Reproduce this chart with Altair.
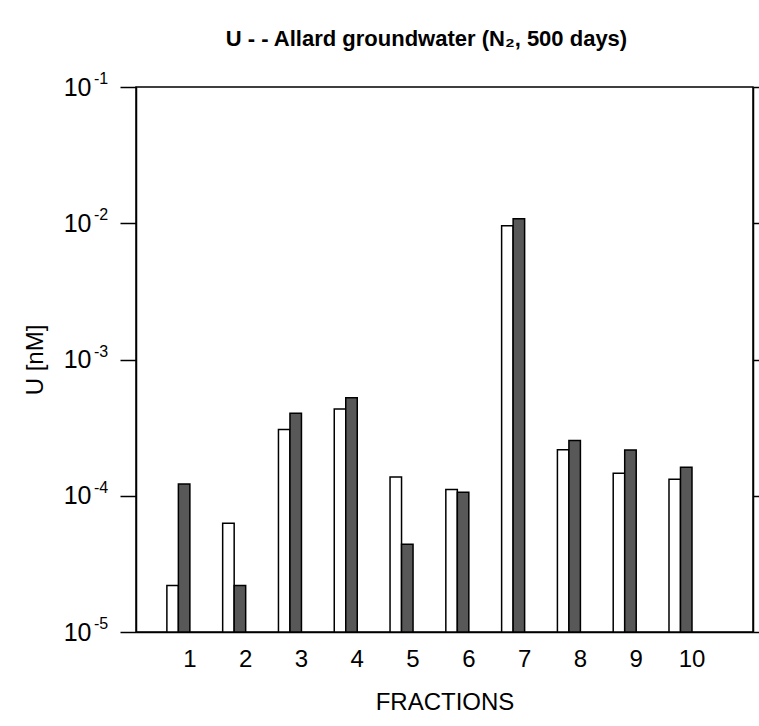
import altair as alt
import pandas as pd

fractions = [1, 2, 3, 4, 5, 6, 7, 8, 9, 10]
open_vals = [2.19e-5, 6.27e-5, 3.07e-4, 4.34e-4, 1.37e-4, 1.11e-4, 9.6e-3, 2.18e-4, 1.46e-4, 1.32e-4]
hatched_vals = [1.22e-4, 2.19e-5, 4.03e-4, 5.25e-4, 4.4e-5, 1.06e-4, 1.08e-2, 2.54e-4, 2.17e-4, 1.62e-4]
y_ticks = [1e-5, 1e-4, 1e-3, 1e-2, 1e-1]
y_tick_base = "10"
y_tick_exponents = ["-5", "-4", "-3", "-2", "-1"]
title_text = "U - - Allard groundwater (N₂, 500 days)"

W, H = 617, 545
FONT = "Liberation Sans, Arial, sans-serif"

df_open = pd.DataFrame({"fraction": fractions, "U": open_vals})
df_hat = pd.DataFrame({"fraction": fractions, "U": hatched_vals})
df_ticks = pd.DataFrame({"v": y_ticks, "exp": y_tick_exponents})

x_scale = alt.Scale(domain=[0.33, 11.21], nice=False, zero=False)
y_scale = alt.Scale(type="log", domain=[1e-5, 1e-1], nice=False)

x_axis = alt.Axis(
    values=fractions, format="d", ticks=False, labelOffset=11, labelFontSize=24,
    labelFont=FONT, labelColor="black", labelPadding=15, domainColor="black",
    domainWidth=1.5, title="FRACTIONS", titleFont=FONT, titleFontSize=24,
    titleFontWeight="normal", titleColor="black", titlePadding=19, grid=False,
    labelAngle=0,
)
y_axis_left = alt.Axis(
    orient="left", values=y_ticks, labelExpr=f"'{y_tick_base}'", tickSize=16,
    tickWidth=1.5, tickColor="black", domainColor="black", domainWidth=1.5,
    labelFontSize=25, labelFont=FONT, labelColor="black", labelPadding=29,
    title="U [nM]", titleFont=FONT, titleFontSize=24, titleFontWeight="normal",
    titleColor="black", titlePadding=16, grid=False,
)
y_axis_right = alt.Axis(
    orient="right", values=y_ticks, labels=False, tickSize=6, tickWidth=1.5,
    tickColor="black", domainColor="black", domainWidth=1.5, title=None, grid=False,
)

open_bars = alt.Chart(df_open).mark_bar(
    fill="white", stroke="black", strokeWidth=1.5, size=11.5, xOffset=-5.75
).encode(
    x=alt.X("fraction:Q", scale=x_scale, axis=x_axis),
    y=alt.Y("U:Q", scale=y_scale, axis=y_axis_left),
    y2=alt.datum(1e-5),
)
hat_bars = alt.Chart(df_hat).mark_bar(
    fill="#585858", stroke="black", strokeWidth=1.5, size=11.5, xOffset=5.75
).encode(
    x=alt.X("fraction:Q", scale=x_scale),
    y=alt.Y("U:Q", scale=y_scale, axis=None),
    y2=alt.datum(1e-5),
)
right_axis = alt.Chart(df_ticks).mark_point(opacity=0).encode(
    x=alt.value(0),
    y=alt.Y("v:Q", scale=y_scale, axis=y_axis_right),
)
exponents = alt.Chart(df_ticks).mark_text(
    align="left", baseline="middle", fontSize=16, font=FONT, color="black", dy=-8,
).encode(
    x=alt.value(-42),
    y=alt.Y("v:Q", scale=y_scale, axis=None),
    text="exp:N",
)

chart = alt.layer(open_bars, hat_bars, right_axis, exponents).resolve_scale(
    y="independent"
).properties(
    width=W, height=H,
    autosize=alt.AutoSizeParams(type="none"),
    padding={"left": 136, "top": 87, "right": 6, "bottom": 94},
    title=alt.TitleParams(
        text=title_text, font="Liberation Sans Narrow, Liberation Sans, Arial",
        fontSize=22, fontWeight="bold", color="black", anchor="middle",
        frame="group", dx=-18, offset=20,
    ),
).configure(background="white").configure_view(stroke="black", strokeWidth=1.5)

chart.save("out.html", embed_options={"renderer": "svg", "actions": False})
